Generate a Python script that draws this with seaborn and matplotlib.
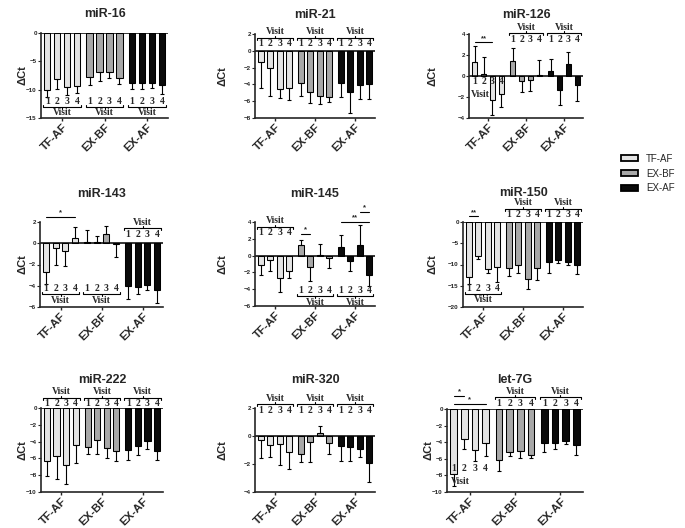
import numpy as np
import pandas as pd
import matplotlib
matplotlib.use('Agg')
import matplotlib.pyplot as plt
from matplotlib.patches import Patch
import seaborn as sns

sns.set_style('ticks')
plt.rcParams['font.family'] = ['Liberation Sans', 'DejaVu Sans']

groups = ['TF-AF', 'EX-BF', 'EX-AF']
visits = ['1', '2', '3', '4']
colors = ['#e4e4e4', '#a8a8a8', '#0a0a0a']

# mean dCt per group x visit, and SD
mir16_mean = [[-10.1, -8.2, -9.6, -9.3], [-7.8, -6.8, -6.9, -7.9], [-8.9, -8.9, -8.9, -9.2]]
mir16_sd = [[1.2, 1.6, 1.4, 1.2], [1.4, 1.6, 1.1, 1.1], [0.9, 1.0, 0.8, 1.5]]

mir21_mean = [[-1.35, -2.05, -4.5, -4.4], [-3.85, -4.85, -5.35, -5.55], [-3.85, -4.85, -4.05, -3.9]]
mir21_sd = [[3.05, 3.3, 1.1, 1.4], [1.5, 1.35, 0.95, 0.55], [1.6, 2.55, 1.7, 1.85]]

mir126_mean = [[1.37, 0.22, -2.25, -1.7], [1.45, -0.45, -0.4, 0.1], [0.45, -1.3, 1.1, -0.9]]
mir126_sd = [[1.45, 1.6, 1.45, 1.25], [1.25, 1.05, 1.05, 1.45], [1.2, 1.45, 1.15, 1.5]]

mir143_mean = [[-2.7, -0.45, -0.75, 0.47], [0.15, 0.12, 0.9, -0.03], [-4.0, -4.1, -3.9, -4.4]]
mir143_sd = [[1.15, 1.6, 1.35, 1.07], [1.13, 0.58, 0.7, 1.25], [1.2, 0.7, 0.5, 1.2]]

mir145_mean = [[-1.07, -0.52, -2.63, -1.83], [1.27, -1.31, 0.08, -0.32], [1.05, -0.6, 1.3, -2.3]]
mir145_sd = [[1.23, 1.3, 1.75, 0.87], [0.6, 1.68, 1.3, 1.18], [1.35, 1.2, 2.4, 1.3]]

mir150_mean = [[-13.0, -7.9, -11.1, -10.5], [-10.9, -10.1, -13.3, -10.9], [-9.3, -8.85, -9.3, -10.2]]
mir150_sd = [[1.7, 0.8, 1.0, 3.7], [1.7, 1.8, 2.5, 2.8], [2.6, 0.7, 0.8, 2.0]]

mir222_mean = [[-6.35, -5.75, -6.8, -4.4], [-4.65, -3.85, -4.75, -5.1], [-5.0, -4.55, -3.9, -5.1]]
mir222_sd = [[1.7, 2.75, 2.2, 2.15], [0.8, 1.6, 1.2, 1.15], [1.15, 1.0, 1.0, 1.05]]

mir320_mean = [[-0.26, -0.62, -0.55, -1.17], [-1.29, -0.45, 0.21, -0.5], [-0.7, -0.8, -0.9, -1.95]]
mir320_sd = [[1.3, 0.88, 1.5, 1.2], [0.57, 1.4, 0.53, 0.8], [1.05, 0.95, 0.6, 1.35]]

let7g_mean = [[-7.83, -3.57, -4.9, -4.1], [-6.2, -5.2, -5.1, -5.5], [-4.1, -4.1, -3.85, -4.3]]
let7g_sd = [[1.5, 1.25, 1.4, 1.6], [1.3, 0.5, 0.8, 0.45], [1.1, 0.7, 0.4, 1.2]]

W, H = 685, 528
fig = plt.figure(figsize=(W / 100, H / 100), dpi=100)

# name, mean, sd, ylim, ystep, box (l, t, r, b px), visit labels, significance, ylabel x, title y
panels = [
    ('miR-16', mir16_mean, mir16_sd, (-15, 0), 5, (41, 33, 168, 118),
     [(0, 'below', -12.0), (1, 'below', -12.0), (2, 'below', -12.0)], [], 22, 14),
    ('miR-21', mir21_mean, mir21_sd, (-8, 2), 2, (255, 34, 375, 118),
     [(0, 'above', 0.85), (1, 'above', 0.85), (2, 'above', 0.85)], [], 222, 15),
    ('miR-126', mir126_mean, mir126_sd, (-4, 4), 2, (469, 34, 583, 118),
     [(0, 'inside', -0.55), (1, 'above', 3.5), (2, 'above', 3.5)], [(0, 0, 2, 3.2, '**')], 433, 15),
    ('miR-143', mir143_mean, mir143_sd, (-6, 2), 2, (40, 222, 163, 307),
     [(0, 'below', -4.3), (1, 'below', -4.3), (2, 'above', 0.85)], [(0, 0, 3, 2.5, '*')], 22, 194),
    ('miR-145', mir145_mean, mir145_sd, (-6, 4), 2, (255, 222, 375, 306),
     [(0, 'above', 2.7), (1, 'below', -4.2), (2, 'below', -4.2)],
     [(1, 0, 1, 2.6, '*'), (2, 0, 3, 4.0, '**'), (2, 2, 3, 5.2, '*')], 222, 194),
    ('miR-150', mir150_mean, mir150_sd, (-20, 0), 5, (463, 222, 583, 307),
     [(0, 'below', -15.6), (1, 'above', 1.7), (2, 'above', 1.7)], [(0, 0, 1, 1.3, '**')], 433, 193),
    ('miR-222', mir222_mean, mir222_sd, (-10, 0), 2, (41, 408, 163, 492),
     [(0, 'above', 0.5), (1, 'above', 0.5), (2, 'above', 0.5)], [], 22, 380),
    ('miR-320', mir320_mean, mir320_sd, (-4, 2), 2, (255, 408, 375, 492),
     [(0, 'above', 1.83), (1, 'above', 1.83), (2, 'above', 1.83)], [], 222, 380),
    ('let-7G', let7g_mean, let7g_sd, (-10, 0), 2, (447, 409, 583, 492),
     [(0, 'inside', -7.2), (1, 'above', 0.7), (2, 'above', 0.7)],
     [(0, 0, 1, 1.6, '*'), (0, 0, 3, 0.65, '*')], 428, 380),
]

serif = dict(family='Liberation Serif', weight='bold', fontsize=7)
GROUP_W = 0.94
SLOT = GROUP_W / 4
BAR_W = SLOT * 0.64

for name, mean, sd, ylim, ystep, box, vlabels, sigs, ylab_x, title_y in panels:
    l, t, r, b = box
    ax = fig.add_axes([l / W, 1 - b / H, (r - l) / W, (b - t) / H])

    rows = []
    for g, grp in enumerate(groups):
        for v, vis in enumerate(visits):
            rows.append({'group': grp, 'visit': vis, 'value': mean[g][v]})
    df = pd.DataFrame(rows)
    sns.barplot(data=df, x='group', y='value', hue='visit', order=groups, hue_order=visits,
                width=GROUP_W, errorbar=None, edgecolor='black', linewidth=0.75,
                legend=False, ax=ax)

    cx = np.zeros((3, 4))
    lx = np.zeros((3, 4))
    rx = np.zeros((3, 4))
    for v, cont in enumerate(ax.containers):
        for bar in cont:
            c = bar.get_x() + bar.get_width() / 2
            g = int(round(c))
            bar.set_width(BAR_W)
            bar.set_x(c - BAR_W / 2)
            bar.set_facecolor(colors[g])
            cx[g, v] = c
            lx[g, v] = c - BAR_W / 2
            rx[g, v] = c + BAR_W / 2

    for g in range(3):
        for v in range(4):
            m, s = mean[g][v], sd[g][v]
            lo, hi = (s, 0) if m < 0 else (0, s)
            ax.errorbar(cx[g, v], m, yerr=[[lo], [hi]], fmt='none', ecolor='black',
                        elinewidth=0.8, capsize=1.6, capthick=0.8)

    ax.set_xlim(-0.5, 2.5)
    ax.set_ylim(*ylim)
    ax.set_yticks(np.arange(ylim[0], ylim[1] + 0.01, ystep))
    ax.axhline(0, color='black', lw=1.1)
    sns.despine(ax=ax)
    for sp in ['left', 'bottom']:
        ax.spines[sp].set_linewidth(1.2)
    ax.set_xlabel('')
    ax.set_ylabel('')
    ax.set_xticks([0, 1, 2])
    ax.set_xticklabels(groups, rotation=45, ha='right', rotation_mode='anchor',
                       fontsize=8.2, fontweight='bold')
    ax.tick_params(axis='x', length=2.2, width=1, pad=0.5)
    ax.tick_params(axis='y', labelsize=4.5, length=2, width=0.8, pad=1)
    for tl in ax.get_yticklabels():
        tl.set_fontweight('bold')

    ppu = ax.bbox.height / (ylim[1] - ylim[0])

    def px(n):
        return n / ppu

    for g, mode, yn in vlabels:
        for v in range(4):
            ax.text(cx[g, v], yn, visits[v], ha='center', va='center', **serif)
        xl, xr = lx[g, 0] - 0.02, rx[g, 3] + 0.02
        xc = (xl + xr) / 2
        if mode == 'inside':
            ax.text((cx[g, 0] + cx[g, 1]) / 2 + 0.04, yn - px(13), 'Visit',
                    ha='center', va='center', **serif)
            continue
        sgn = 1 if mode == 'above' else -1
        yb = yn + sgn * px(6 if mode == 'above' else 5.5)
        ax.plot([xl, xl, xr, xr], [yb - sgn * px(2), yb, yb, yb - sgn * px(2)],
                color='black', lw=0.8, clip_on=False)
        ax.plot([xc, xc], [yb, yb + sgn * px(2)], color='black', lw=0.8, clip_on=False)
        ax.text(xc, yn + sgn * px(12 if mode == 'above' else 11.5), 'Visit',
                ha='center', va='center', **serif)

    for g, i1, i2, y, txt in sigs:
        ax.plot([cx[g, i1], cx[g, i2]], [y, y], color='black', lw=0.8, clip_on=False)
        ax.text((cx[g, i1] + cx[g, i2]) / 2, y + px(0.5), txt, ha='center', va='bottom',
                fontsize=5.5, fontweight='bold')

    fig.text((l + r) / 2 / W, 1 - title_y / H, name, ha='center', va='center',
             fontsize=9, fontweight='bold')
    fig.text(ylab_x / W, 1 - (t + b) / 2 / H, '\u0394Ct', ha='center', va='center',
             rotation=90, fontsize=8, fontweight='bold')

handles = [Patch(facecolor=c, edgecolor='black', linewidth=1.3) for c in colors]
fig.legend(handles, groups, loc='upper left', bbox_to_anchor=(612 / W, 1 - 145 / H),
           frameon=False, fontsize=7, handlelength=1.8, handleheight=0.6,
           labelspacing=0.5, handletextpad=0.8)

fig.savefig('out.png', dpi=100)
